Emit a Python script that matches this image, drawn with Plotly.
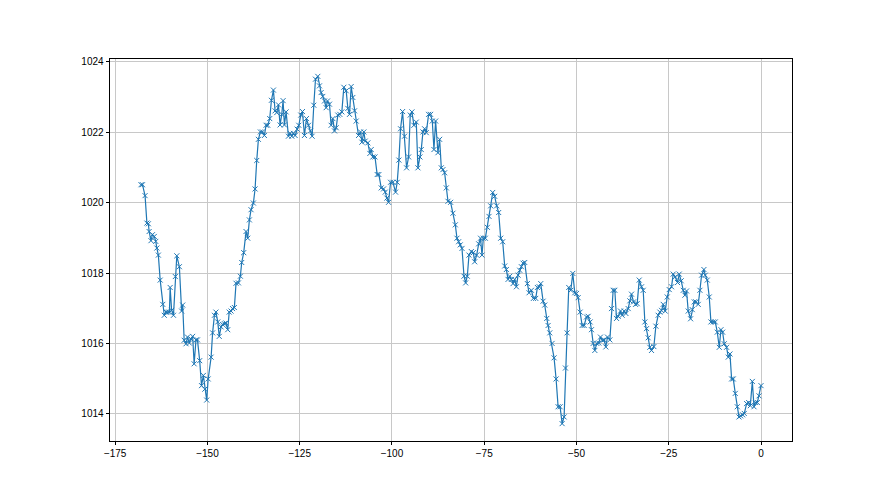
import plotly.graph_objects as go

# Hours relative to now, segment by segment
x_a = [-168.0, -167.6, -166.9, -166.4, -166.0, -165.8, -165.3, -164.9, -164.4, -164.0, -163.7, -163.3, -162.8, -162.1,
       -161.7, -161.2, -160.8, -160.3, -160.1, -159.7, -159.2, -158.7, -158.3, -157.6, -157.0, -156.7, -156.3, -155.8,
       -155.4, -154.9, -154.5, -154.0, -153.6, -153.1, -152.7, -152.1, -151.6, -151.1, -150.7, -150.2, -149.8, -149.0,
       -148.6, -148.1, -147.7, -147.2, -146.8, -146.3, -145.9, -145.4, -145.0, -144.5, -144.1, -143.6, -143.2, -142.7]
y_a = [1020.51, 1020.51, 1020.20, 1019.42, 1019.40, 1019.18, 1018.92, 1019.09, 1019.04, 1018.90, 1018.71, 1018.51,
       1017.80, 1017.11, 1016.80, 1016.89, 1016.89, 1016.89, 1017.59, 1016.94, 1016.80, 1017.90, 1018.49, 1018.18,
       1016.92, 1017.09, 1016.09, 1015.99, 1016.18, 1016.01, 1016.13, 1016.20, 1015.42, 1016.10, 1016.10, 1015.51,
       1014.80, 1015.09, 1014.70, 1014.39, 1014.99, 1015.61, 1016.30, 1016.80, 1016.89, 1016.61, 1016.20, 1016.47,
       1016.54, 1016.56, 1016.58, 1016.39, 1016.89, 1016.92, 1016.99, 1017.02]

x_b = [-142.25, -141.6, -141.07, -140.71, -140.17, -139.54, -139.08, -138.63, -138.18, -137.55, -137.09, -136.64,
       -136.19, -135.65, -135.1, -134.56, -134.11, -133.66, -133.12, -132.66, -132.12, -131.67, -131.22, -130.76,
       -130.31, -129.86, -129.5, -129.14, -128.68, -128.05, -127.6, -127.15, -126.7, -126.24, -125.7, -125.25,
       -124.7, -124.25, -123.71, -123.17, -122.62, -122.08, -121.63, -121.18, -120.72, -120.09, -119.64, -119.19,
       -118.74, -118.28, -117.83, -117.47, -116.93, -116.48, -116.02, -115.57, -115.12, -114.67, -114.12, -113.58,
       -113.04]
y_b = [1017.71, 1017.72, 1017.91, 1018.30, 1018.58, 1019.18, 1018.99, 1019.51, 1019.80, 1019.99, 1020.39, 1021.20,
       1021.80, 1022.01, 1022.01, 1021.91, 1022.20, 1022.20, 1022.39, 1022.91, 1023.20, 1022.61, 1022.56, 1022.78,
       1022.21, 1022.51, 1022.90, 1022.21, 1022.58, 1021.89, 1021.97, 1021.89, 1021.97, 1021.91, 1022.09, 1022.20,
       1022.49, 1022.59, 1021.91, 1022.39, 1022.20, 1022.04, 1021.89, 1022.77, 1023.51, 1023.59, 1023.32, 1023.13,
       1023.02, 1022.89, 1022.70, 1022.89, 1022.80, 1022.20, 1022.39, 1022.04, 1022.13, 1022.49, 1022.51, 1022.58,
       1023.28]

x_c = [-112.4, -111.95, -111.5, -111.05, -110.6, -110.14, -109.69, -109.06, -108.52, -108.15, -107.61, -107.25,
       -106.53, -105.98, -105.62, -105.17, -104.6, -104.0, -103.54, -102.91, -102.28, -101.82, -101.37, -100.92,
       -100.38, -99.74, -99.02, -98.57, -98.12, -97.67, -97.12, -96.58, -96.04, -95.49, -95.04, -94.59, -94.05,
       -93.41, -92.96, -92.42, -92.06, -91.6, -91.15, -90.7, -90.07, -89.53, -89.07, -88.62, -88.17]
y_c = [1023.18, 1022.68, 1022.51, 1023.30, 1022.99, 1022.61, 1022.32, 1021.91, 1022.01, 1021.72, 1022.01, 1021.75,
       1021.70, 1021.40, 1021.51, 1021.30, 1021.30, 1020.80, 1020.80, 1020.42, 1020.39, 1020.30, 1020.13, 1020.01,
       1020.58, 1020.58, 1020.30, 1020.58, 1021.21, 1022.10, 1022.59, 1021.89, 1020.99, 1021.30, 1022.49, 1022.58,
       1022.20, 1022.29, 1020.99, 1021.30, 1021.51, 1022.01, 1022.10, 1021.99, 1022.51, 1022.51, 1022.32, 1021.51,
       1022.32]

x_d = [-87.54, -87.08, -86.63, -86.18, -85.73, -85.27, -84.82, -84.1, -83.47, -82.83, -82.38, -81.93, -81.5, -81.02,
       -80.48, -80.03, -79.58, -79.13, -78.49, -77.95, -77.59, -77.05, -76.5, -76.0, -75.6, -75.24, -74.7, -74.15,
       -73.70, -73.25, -72.7, -72.16, -71.62, -71.08, -70.53, -69.99, -69.45, -69.0, -68.54, -68.09, -67.64, -67.19,
       -66.74, -66.28, -65.83, -65.38, -64.93, -64.47, -64.02, -63.3, -62.85, -62.21, -61.67, -61.04]
y_d = [1021.42, 1021.80, 1020.99, 1020.94, 1020.85, 1020.42, 1020.04, 1020.01, 1019.70, 1019.37, 1018.99, 1018.89,
       1018.80, 1018.70, 1017.91, 1017.72, 1017.91, 1018.51, 1018.61, 1018.58, 1018.32, 1018.51, 1018.83, 1018.99,
       1018.51, 1018.99, 1018.99, 1019.30, 1019.61, 1019.91, 1020.29, 1020.18, 1019.91, 1019.72, 1018.99, 1018.89,
       1018.20, 1018.10, 1017.82, 1017.91, 1017.82, 1017.70, 1017.82, 1017.61, 1017.94, 1018.08, 1018.18, 1018.28,
       1018.30, 1017.70, 1017.44, 1017.51, 1017.28, 1017.28]

x_e = [-60.59, -60.1, -59.68, -59.05, -58.6, -58.05, -57.69, -57.24, -56.61, -56.07, -55.52, -54.98, -54.44, -53.89,
       -53.35, -52.99, -52.54, -52.09, -51.54, -51.0, -50.46, -50.0, -49.55, -49.01, -48.47, -47.93, -47.29, -46.84,
       -46.3, -45.94, -45.48, -45.03, -44.49, -43.95, -43.5, -42.95, -42.5, -42.05, -41.6, -40.96, -40.51, -40.06,
       -39.61, -39.15, -38.7, -38.07, -37.62, -37.07, -36.6, -35.99, -35.54, -35.09, -34.54, -34.0, -33.55, -33.0,
       -32.37, -31.92]
y_e = [1017.59, 1017.61, 1017.70, 1017.20, 1017.09, 1016.71, 1016.51, 1016.30, 1016.00, 1015.59, 1014.99, 1014.20,
       1014.20, 1013.72, 1013.91, 1015.30, 1016.30, 1017.59, 1017.51, 1017.99, 1017.44, 1017.42, 1017.30, 1016.89,
       1016.51, 1016.51, 1016.75, 1016.77, 1016.61, 1016.39, 1016.00, 1015.80, 1016.00, 1016.01, 1016.18, 1016.09,
       1016.10, 1015.90, 1016.18, 1016.10, 1016.99, 1017.51, 1017.51, 1016.71, 1016.77, 1016.92, 1016.80, 1016.92,
       1016.85, 1016.99, 1017.21, 1017.40, 1017.18, 1017.11, 1017.13, 1017.80, 1017.61, 1017.51]

x_f = [-31.47, -31.02, -30.57, -30.12, -29.67, -29.03, -28.49, -27.86, -27.40, -26.95, -26.5, -25.96, -25.41, -24.87,
       -24.24, -23.79, -23.24, -22.61, -22.16, -21.62, -21.07, -20.62, -20.17, -19.72, -19.08, -18.63, -18.09, -17.64,
       -17.01, -16.55, -16.1, -15.47, -15.1, -14.56, -14.02, -13.57, -12.93, -12.39, -11.85, -11.31, -10.85, -10.4,
       -9.95, -9.32, -8.87, -8.41, -7.96, -7.51, -6.97, -6.42, -5.97, -5.52, -4.98, -4.53, -3.89, -3.35, -2.9, -2.35,
       -1.9, -1.54, -0.99, -0.54, 0.0]
y_f = [1016.61, 1016.42, 1016.16, 1015.89, 1015.80, 1015.91, 1016.49, 1016.80, 1016.89, 1016.94, 1017.11, 1016.92,
       1017.32, 1017.53, 1017.61, 1017.97, 1017.89, 1017.73, 1017.97, 1017.78, 1017.51, 1017.37, 1017.49, 1016.92,
       1016.70, 1016.96, 1017.18, 1017.18, 1017.11, 1017.51, 1017.94, 1018.10, 1017.94, 1017.80, 1017.32, 1016.61,
       1016.61, 1016.61, 1016.32, 1015.89, 1016.39, 1016.32, 1015.99, 1015.89, 1015.61, 1015.70, 1014.99, 1014.99,
       1014.58, 1014.20, 1013.91, 1013.94, 1013.97, 1014.01, 1014.29, 1014.32, 1014.23, 1014.92, 1014.20, 1014.32,
       1014.32, 1014.51, 1014.80]

x_ticks = [-175, -150, -125, -100, -75, -50, -25, 0]
y_ticks = [1014, 1016, 1018, 1020, 1022, 1024]

xs = x_a + x_b + x_c + x_d + x_e + x_f
ys = y_a + y_b + y_c + y_d + y_e + y_f
n = min(len(xs), len(ys))
xs, ys = xs[:n], ys[:n]

def padded(vals, frac=0.05):
    lo, hi = min(vals), max(vals)
    d = (hi - lo) * frac
    return [lo - d, hi + d]

fig = go.Figure(go.Scatter(
    x=xs, y=ys, mode="lines+markers",
    line=dict(color="#1f77b4", width=1.2),
    marker=dict(symbol="x-thin", size=5, color="#1f77b4",
                line=dict(color="#1f77b4", width=1)),
    showlegend=False,
))

tick_font = dict(family="Liberation Sans Narrow, Liberation Sans, Arial, sans-serif", size=10, color="black")

axis_common = dict(
    showgrid=True, gridcolor="#c8c8c8", gridwidth=0.8,
    showline=True, linecolor="black", linewidth=0.8, mirror=True,
    ticks="outside", ticklen=3.5, tickwidth=0.8, tickcolor="black",
    zeroline=False,
    tickfont=tick_font,
)

fig.update_xaxes(range=padded(xs), tickvals=x_ticks,
                 ticktext=[("−" + str(-t)) if t < 0 else str(t) for t in x_ticks],
                 **axis_common)
fig.update_yaxes(range=padded(ys), tickvals=y_ticks, ticktext=[str(t) for t in y_ticks], **axis_common)

fig.update_layout(
    width=880, height=495,
    margin=dict(l=102, r=96, t=51, b=62),
    paper_bgcolor="white", plot_bgcolor="white",
    font=tick_font,
)

fig.write_html("out.html")
